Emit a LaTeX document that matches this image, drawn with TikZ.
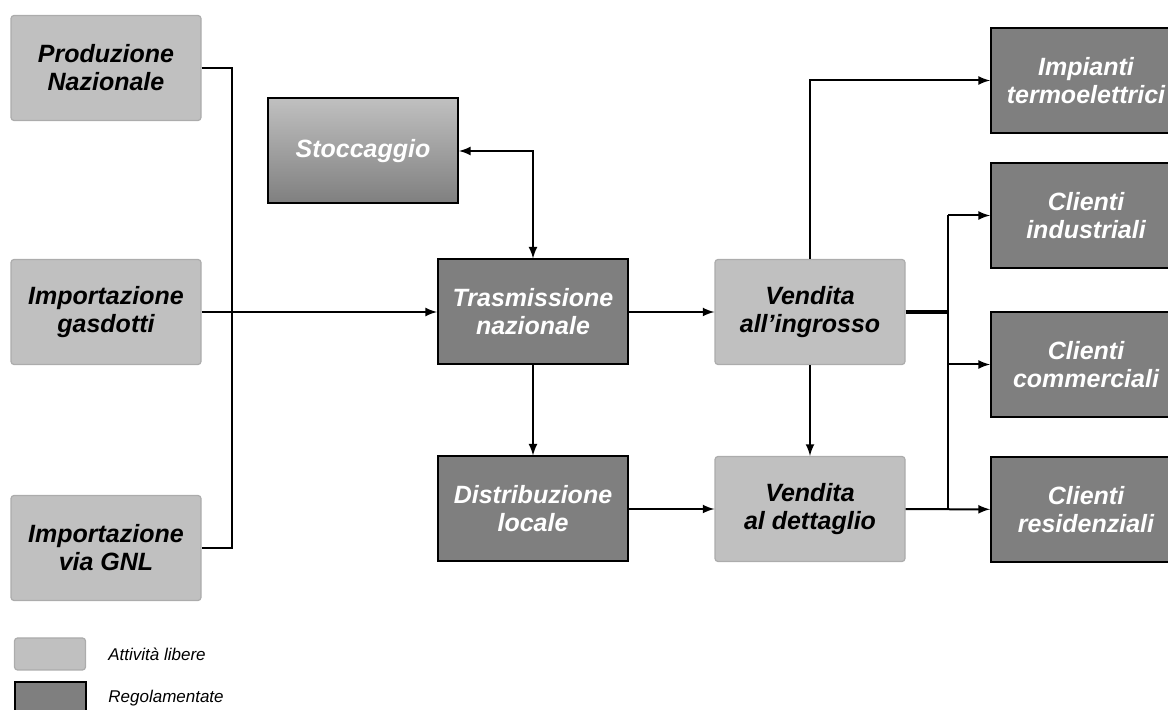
\documentclass[tikz,border=0pt]{standalone}
\usepackage{fontspec}
\setsansfont{Liberation Sans}
\usetikzlibrary{arrows}
\definecolor{libcol}{RGB}{192,192,192}
\definecolor{libedge}{RGB}{172,172,172}
\definecolor{regcol}{RGB}{127,127,127}
\definecolor{stoctop}{RGB}{192,192,192}
\begin{document}
\begin{tikzpicture}[>=latex,x=0.5pt,y=-0.5pt,
  box/.style={minimum width=95pt,minimum height=52.5pt,inner sep=0pt,align=center,
    font=\sffamily\bfseries\itshape\fontsize{12.5}{14}\selectfont},
  libera/.style={box,fill=libcol,draw=libedge,line width=0.6pt,rounded corners=1.5pt,text=black},
  regol/.style={box,fill=regcol,draw=black,line width=1pt,text=white},
  legtext/.style={anchor=west,inner sep=0pt,font=\sffamily\itshape\fontsize{8.5}{10}\selectfont},
  conn/.style={line width=1pt}]
\useasboundingbox (0,0) rectangle (1168,710);
\path
(106,68)    node[libera] (prod) {Produzione\\Nazionale}
(106,312)   node[libera] (gasd) {Importazione\\gasdotti}
(106,548)   node[libera] (gnl)  {Importazione\\via GNL}
(363,151)   node[regol,fill=none,top color=stoctop,bottom color=regcol] (stoc) {Stoccaggio}
(533,312)   node[regol]  (tras) {Trasmissione\\nazionale}
(533,509)   node[regol]  (dist) {Distribuzione\\locale}
(810,312)   node[libera] (ingr) {Vendita\\all'ingrosso}
(810,509)   node[libera] (dett) {Vendita\\al dettaglio}
(1086,80.5) node[regol]  (imp)  {Impianti\\termoelettrici}
(1086,215.5) node[regol] (ind)  {Clienti\\industriali}
(1086,364.5) node[regol] (comm) {Clienti\\commerciali}
(1086,509.5) node[regol] (res)  {Clienti\\residenziali};
\coordinate (jl) at (232,312);
\coordinate (jr) at (948,312);
% sources
\draw[conn] (prod.east) -| (jl) |- (gnl.east);
\draw[conn,->] (gasd) -- (tras);
\draw[conn,<->] (stoc.east) -| (tras.north);
% network
\draw[conn,->] (tras) -- (ingr);
\draw[conn,->] (tras) -- (dist);
\draw[conn,->] (dist) -- (dett);
\draw[conn,->] (ingr) -- (dett);
\draw[conn,->] (ingr.north) |- (imp.west);
% customers
\draw[line width=1.6pt] (ingr.east) -- (jr);
\draw[conn] (jr |- ind.west) -- (jr |- res.west);
\draw[conn,->] (jr |- ind.west) -- (ind.west);
\draw[conn,->] (jr |- comm.west) -- (comm.west);
\draw[conn,->] (dett) -- (res);
% legend
\path
(50,654) node[libera,minimum width=35.5pt,minimum height=16pt] (leglib) {}
(108,654) node[legtext] (txtlib) {Attività libere}
(50,698) node[regol,minimum width=35.5pt,minimum height=16pt] (legreg) {}
(108,698) node[legtext] (txtreg) {Regolamentate};
\end{tikzpicture}
\end{document}
